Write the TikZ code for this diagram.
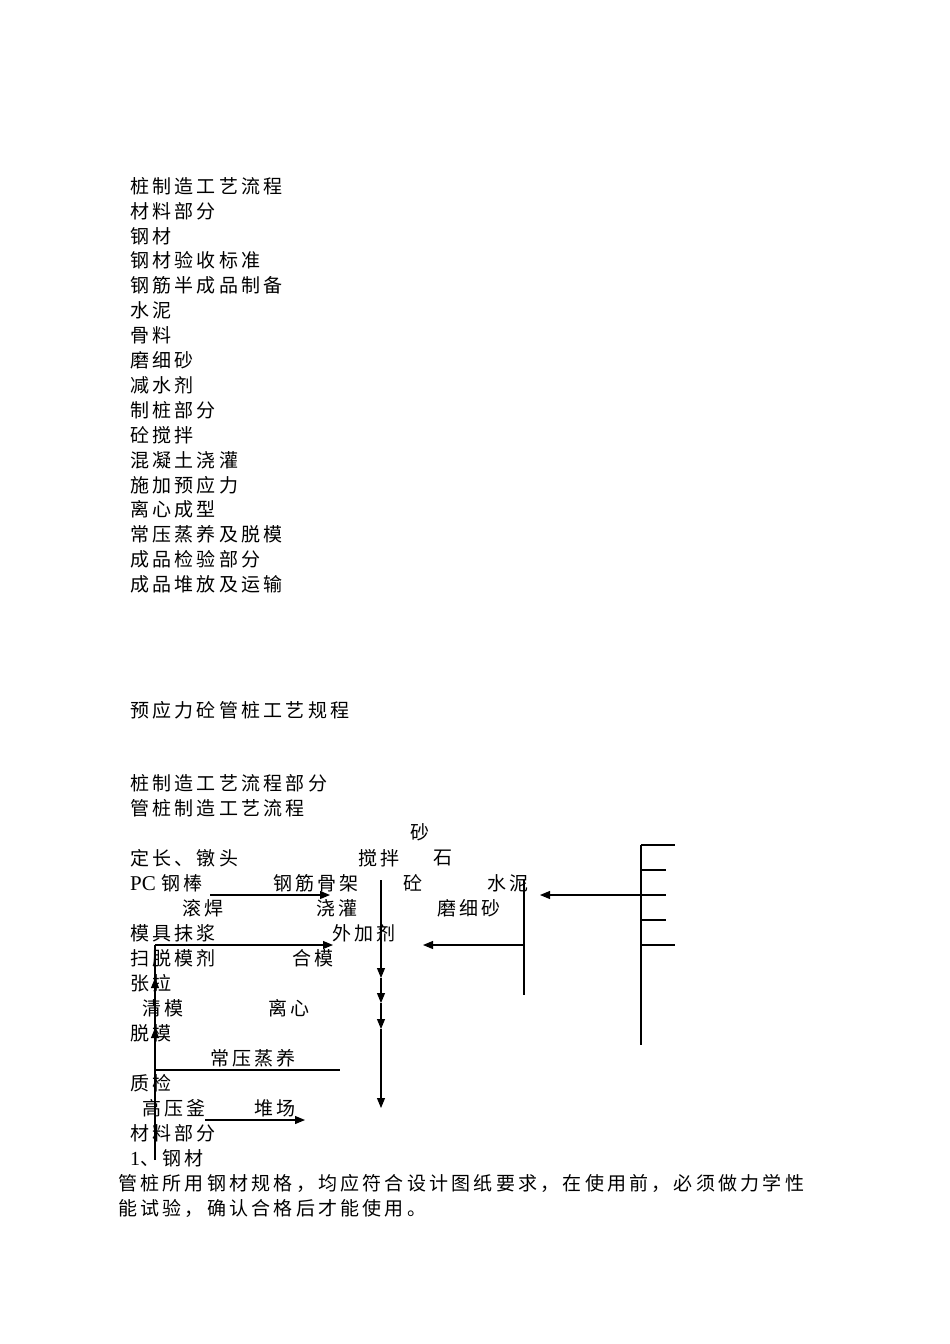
\documentclass[tikz,border=0pt]{standalone}
\usepackage{fontspec}
\setmainfont{Liberation Serif}
\newfontfamily\cjk[LetterSpace=17]{Noto Sans CJK SC}
\usetikzlibrary{arrows.meta}
\begin{document}
\begin{tikzpicture}[x=1pt,y=-1pt,
  t/.style={anchor=west,inner sep=0pt,font=\fontsize{19}{20}\selectfont\cjk},
  ln/.style={line width=1.1pt},
  ar/.style={ln,-{Triangle[length=10pt,width=8pt]}}]
\useasboundingbox (0,0) rectangle (950,1344);
% top list
\foreach \s [count=\i] in {桩制造工艺流程,材料部分,钢材,钢材验收标准,钢筋半成品制备,水泥,骨料,磨细砂,减水剂,制桩部分,砼搅拌,混凝土浇灌,施加预应力,离心成型,常压蒸养及脱模,成品检验部分,成品堆放及运输}
  \node[t] (l\i) at (130,{186+(\i-1)*24.9}) {\s};
\node[t] (title) at (130,710) {预应力砼管桩工艺规程};
\node[t] (h1) at (130,783) {桩制造工艺流程部分};
\node[t] (h2) at (130,808) {管桩制造工艺流程};
% diagram texts
\node[t] (sha) at (410,832) {砂};
\node[t] (dc) at (130,858) {定长、镦头};
\node[t] (jb) at (358,858) {搅拌};
\node[t] (shi) at (433,858) {石};
\node[t] (pc) at (130,883) {{\fontsize{21}{20}\selectfont\rmfamily PC }钢棒};
\node[t] (gj) at (273,883) {钢筋骨架};
\node[t] (tong) at (403,883) {砼};
\node[t] (sn) at (487,883) {水泥};
\node[t] (gh) at (182,908) {滚焊};
\node[t] (jg) at (316,908) {浇灌};
\node[t] (mxs) at (437,908) {磨细砂};
\node[t] (mj) at (130,933) {模具抹浆};
\node[t] (wjj) at (332,933) {外加剂};
\node[t] (sm) at (130,958) {扫脱模剂};
\node[t] (hm) at (292,958) {合模};
\node[t] (zl) at (130,983) {张拉};
\node[t] (qm) at (142,1008) {清模};
\node[t] (lx) at (268,1008) {离心};
\node[t] (tm) at (130,1033) {脱模};
\node[t] (cy) at (210,1058) {常压蒸养};
\node[t] (zj) at (130,1083) {质检};
\node[t] (gyf) at (142,1108) {高压釜};
\node[t] (dc2) at (254,1108) {堆场};
\node[t] (clbf) at (130,1133) {材料部分};
\node[t] (gc) at (130,1158) {{\fontsize{20}{20}\selectfont\rmfamily 1}、钢材};
\node[t] (p1) at (118,1183) {管桩所用钢材规格，均应符合设计图纸要求，在使用前，必须做力学性};
\node[t] (p2) at (118,1208) {能试验，确认合格后才能使用。};
% coordinates
\coordinate (a1) at (210,895); \coordinate (a2) at (330,895);
\coordinate (b1) at (155,945); \coordinate (b2) at (333,945);
\coordinate (v1) at (155,1160);
\coordinate (h1s) at (155,1070); \coordinate (h1e) at (340,1070);
\coordinate (c1) at (205,1120); \coordinate (c2) at (305,1120);
\coordinate (m0) at (381,880);
\coordinate (r1) at (524,880); \coordinate (r2) at (524,995);
\coordinate (r3) at (524,945); \coordinate (r4) at (423,945);
\coordinate (s1) at (641,845); \coordinate (s2) at (641,1045);
\coordinate (s3) at (641,895); \coordinate (s4) at (540,895);
\draw[ar] (a1) -- (a2);
\draw[ar] (b1) -- (b2);
\draw[ln] (v1) -- (b1);
\draw[ar] (155,1005) -- (155,978);
\draw[ar] (155,1055) -- (155,1028);
\draw[ln] (h1s) -- (h1e);
\draw[ar] (c1) -- (c2);
\draw[ln] (m0) -- (381,960);
\draw[ar] (381,955) -- (381,978);
\draw[ar] (381,978) -- (381,1003);
\draw[ar] (381,1003) -- (381,1029);
\draw[ar] (381,1029) -- (381,1108);
\draw[ln] (r1) -- (r2);
\draw[ar] (r3) -- (r4);
\draw[ln] (s1) -- (s2);
\foreach \y/\e in {845/675,870/666,920/666,945/675} \draw[ln] (641,\y) -- (\e,\y);
\draw[ln] (641,895) -- (666,895);
\draw[ar] (s3) -- (s4);
\end{tikzpicture}
\end{document}
